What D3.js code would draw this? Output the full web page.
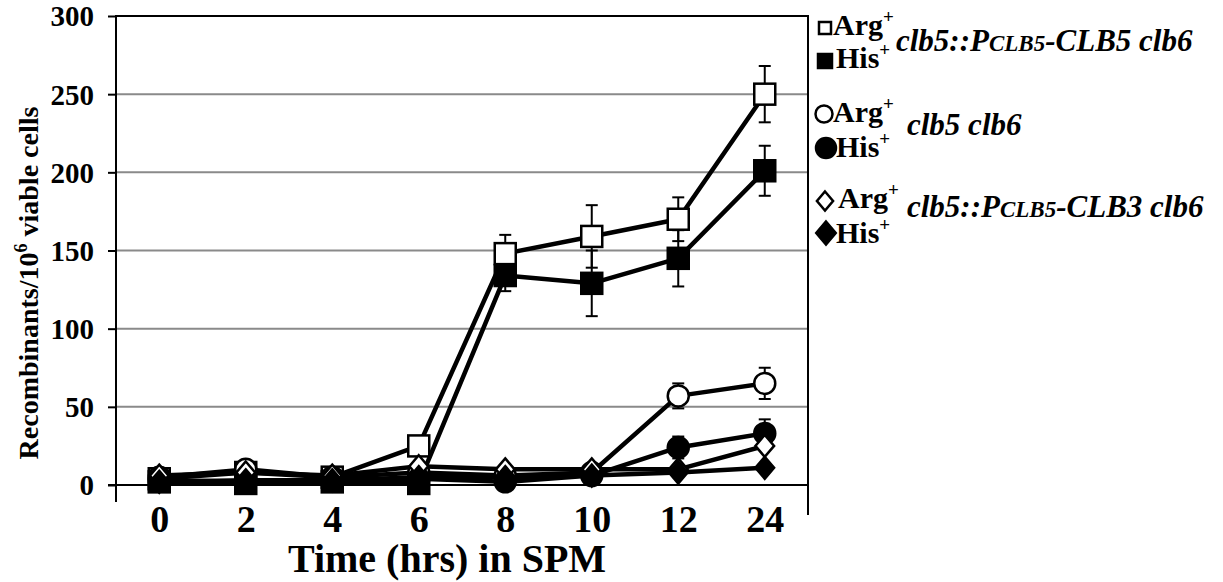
<!DOCTYPE html>
<html>
<head>
<meta charset="utf-8">
<script src="https://cdn.jsdelivr.net/npm/d3@7"></script>
<style>
html,body{margin:0;padding:0;background:#fff;}
svg{display:block;}
svg text{font-family:"Liberation Serif","DejaVu Serif",serif;}
</style>
</head>
<body>
<svg id="chart" width="1223" height="582"></svg>
<script>
// ---- data ----
const categories = ["0","2","4","6","8","10","12","24"];
const yTicks = [0,50,100,150,200,250,300];
const argCLB5 = [4, 8, 5, 25, 148, 159, 170, 250];
const argCLB5Err = [0,0,0,0,12,20,14,18];
const hisCLB5 = [2, 1, 2, 1, 134, 129, 145, 201];
const hisCLB5Err = [0,0,0,0,10,21,18,16];
const argClb = [5, 10, 5, 8, 6, 8, 57, 65];
const argClbErr = [0,0,0,0,0,0,8,10];
const hisClb = [3, 2, 3, 4, 2, 6, 24, 33];
const hisClbErr = [0,0,0,0,0,0,7,9];
const argCLB3 = [6, 8, 6, 12, 10, 10, 10, 25];
const hisCLB3 = [2, 3, 3, 5, 5, 6, 8, 11];

const FF = "Liberation Serif";
const series = [
  {vals: argCLB5, err: argCLB5Err, shape: "square", fill: "#fff"},
  {vals: hisCLB5, err: hisCLB5Err, shape: "square", fill: "#000"},
  {vals: argClb, err: argClbErr, shape: "circle", fill: "#fff"},
  {vals: hisClb, err: hisClbErr, shape: "circle", fill: "#000"},
  {vals: argCLB3, err: null, shape: "diamond", fill: "#fff"},
  {vals: hisCLB3, err: null, shape: "diamond", fill: "#000"}
];

const svg = d3.select("#chart");
const L = 116, R = 808, T = 16, B = 485;
const x = d3.scalePoint().domain(categories).range([L, R]).padding(0.5);
const y = d3.scaleLinear().domain([0, 300]).range([B, T]);

// gridlines
svg.append("g").selectAll("line").data(yTicks.filter(d => d > 0 && d < 300)).join("line")
  .attr("x1", L).attr("x2", R).attr("y1", d => y(d)).attr("y2", d => y(d))
  .attr("stroke", "#8a8a8a").attr("stroke-width", 2);

// frame top & right
svg.append("line").attr("x1", L).attr("x2", R).attr("y1", y(300)).attr("y2", y(300))
  .attr("stroke", "#000").attr("stroke-width", 2);
svg.append("line").attr("x1", R).attr("x2", R).attr("y1", y(300) - 1).attr("y2", 515)
  .attr("stroke", "#000").attr("stroke-width", 2);

// y axis
const yAxis = d3.axisLeft(y).tickValues(yTicks).tickSize(8).tickPadding(14);
const gy = svg.append("g").attr("transform", `translate(${L},0)`).call(yAxis);
gy.select(".domain").remove();
gy.attr("font-family", FF);
gy.selectAll(".tick line").attr("stroke", "#000").attr("stroke-width", 2);
gy.selectAll(".tick text").attr("font-size", 29).attr("font-weight", "bold")
  .attr("font-family", FF).attr("fill", "#000").attr("dy", "0.34em");
svg.append("line").attr("x1", L).attr("x2", L).attr("y1", T - 1).attr("y2", 502)
  .attr("stroke", "#000").attr("stroke-width", 2);

// x axis
svg.append("line").attr("x1", L - 8).attr("x2", R).attr("y1", B).attr("y2", B)
  .attr("stroke", "#000").attr("stroke-width", 2);
const xAxis = d3.axisBottom(x).tickSize(0).tickPadding(20);
const gx = svg.append("g").attr("transform", `translate(0,${B})`).call(xAxis);
gx.select(".domain").remove();
gx.attr("font-family", FF);
gx.selectAll(".tick text").attr("font-size", 38).attr("font-weight", "bold")
  .attr("font-family", FF).attr("fill", "#000");

// axis titles
svg.append("text").attr("x", 447).attr("y", 572).attr("text-anchor", "middle")
  .attr("font-family", FF).attr("font-size", 40).attr("font-weight", "bold").text("Time (hrs) in SPM");
const yl = svg.append("text").attr("transform", `translate(38,283) rotate(-90)`)
  .attr("font-family", FF).attr("text-anchor", "middle").attr("font-size", 28).attr("font-weight", "bold");
yl.append("tspan").text("Recombinants/10");
yl.append("tspan").attr("font-size", 18).attr("dy", -11).text("6");
yl.append("tspan").attr("dy", 11).text(" viable cells");

// lines
const line = d3.line().x((d, i) => x(categories[i])).y(d => y(d));
svg.append("g").selectAll("path").data(series).join("path")
  .attr("d", s => line(s.vals)).attr("fill", "none").attr("stroke", "#000")
  .attr("stroke-width", 4.5).attr("stroke-linejoin", "round");

// error bars
const eb = svg.append("g").attr("stroke", "#000").attr("stroke-width", 2);
series.forEach(s => {
  if (!s.err) return;
  s.vals.forEach((v, i) => {
    const e = s.err[i];
    if (!e) return;
    const cx = x(categories[i]);
    eb.append("line").attr("x1", cx).attr("x2", cx).attr("y1", y(v - e)).attr("y2", y(v + e));
    [v - e, v + e].forEach(t => eb.append("line").attr("x1", cx - 6).attr("x2", cx + 6)
      .attr("y1", y(t)).attr("y2", y(t)));
  });
});

function drawMarker(g, shape, cx, cy, fill, size) {
  if (shape === "square") {
    g.append("rect").attr("x", cx - size / 2).attr("y", cy - size / 2)
      .attr("width", size).attr("height", size)
      .attr("fill", fill).attr("stroke", "#000").attr("stroke-width", 2.5);
  } else if (shape === "circle") {
    g.append("circle").attr("cx", cx).attr("cy", cy).attr("r", size / 2)
      .attr("fill", fill).attr("stroke", "#000").attr("stroke-width", 2.5);
  } else {
    const h = size / 2;
    g.append("path").attr("d", `M${cx},${cy - h}L${cx + h * 0.85},${cy}L${cx},${cy + h}L${cx - h * 0.85},${cy}Z`)
      .attr("fill", fill).attr("stroke", "#000").attr("stroke-width", 2.5);
  }
}

// markers
const mk = svg.append("g");
series.forEach(s => {
  s.vals.forEach((v, i) => {
    drawMarker(mk, s.shape, x(categories[i]), y(v), s.fill, s.shape === "diamond" ? 22 : 21);
  });
});

// legend
const lg = svg.append("g");
function argHis(xx, yy, word) {
  const t = lg.append("text").attr("x", xx).attr("y", yy).attr("font-family", FF)
    .attr("font-size", 30).attr("font-weight", "bold");
  t.append("tspan").text(word);
  t.append("tspan").attr("font-size", 19).attr("dy", -12).text("+");
}
function strain(xx, yy, parts) {
  const t = lg.append("text").attr("x", xx).attr("y", yy).attr("font-family", FF).attr("font-size", 31)
    .attr("font-weight", "bold").attr("font-style", "italic");
  parts.forEach(p => t.append("tspan").attr("font-size", p[1]).text(p[0]));
}
drawMarker(lg, "square", 825, 28, "#fff", 12);
argHis(833, 35, "Arg");
drawMarker(lg, "square", 825, 61, "#000", 14);
argHis(836, 68, "His");
strain(896, 51, [["clb5::P", 31], ["CLB5", 23], ["-CLB5 clb6", 31]]);

drawMarker(lg, "circle", 824, 114, "#fff", 17);
argHis(833, 122, "Arg");
drawMarker(lg, "circle", 826, 148, "#000", 20);
argHis(836, 157, "His");
strain(907, 135, [["clb5 clb6", 31]]);

drawMarker(lg, "diamond", 825, 201, "#fff", 19);
argHis(838, 208, "Arg");
drawMarker(lg, "diamond", 826, 233, "#000", 23);
argHis(836, 243, "His");
strain(907, 217, [["clb5::P", 31], ["CLB5", 23], ["-CLB3 clb6", 31]]);
</script>
</body>
</html>
